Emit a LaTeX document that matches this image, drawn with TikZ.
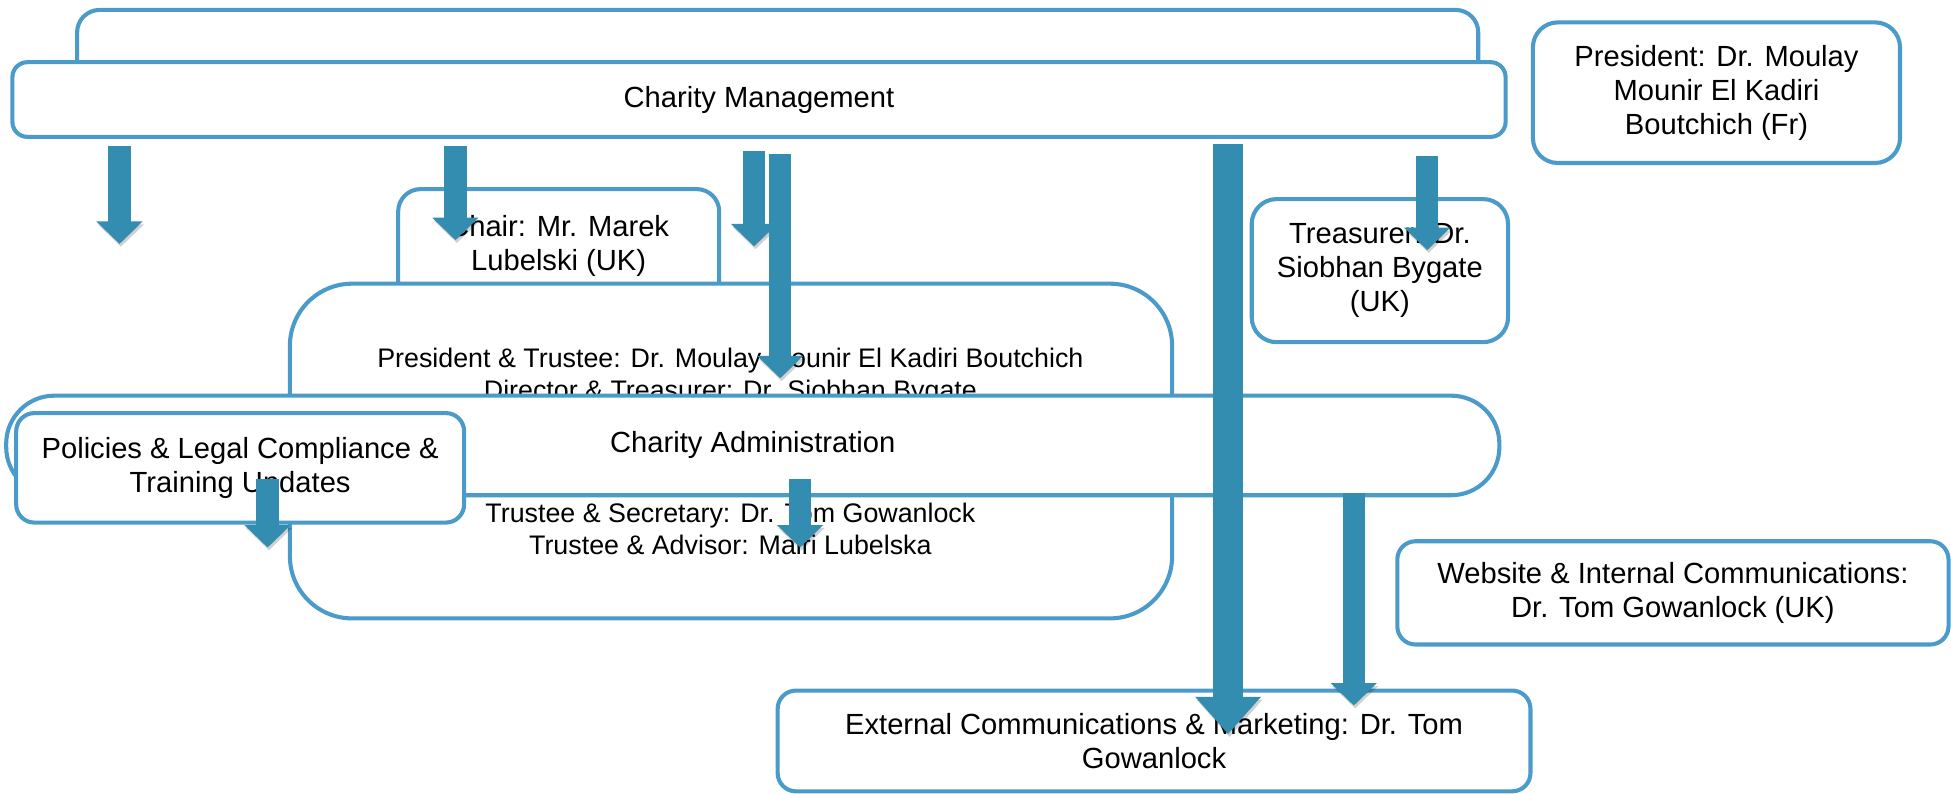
\documentclass[tikz,border=0pt]{standalone}
\usepackage{fontspec}
\setmainfont{Liberation Sans}
\usetikzlibrary{arrows.meta}
\definecolor{boxblue}{RGB}{74,155,201}
\definecolor{arrowteal}{RGB}{50,141,176}
\tikzstyle{unit} = [rectangle, rounded corners=0.27cm, draw=boxblue, line width=1.4pt,
                    fill=white, align=center, inner sep=0pt,
                    font=\fontsize{10}{11.6}\selectfont]
\tikzstyle{boardtext} = [align=center, inner sep=0pt, font=\fontsize{9.2}{11}\selectfont]
\tikzstyle{flow} = [line width=0.27cm, draw=arrowteal,
                    -{Triangle[length=0.27cm,width=0.54cm]},
                    preaction={draw=black, opacity=0.18, transform canvas={shift={(0.5pt,-1pt)}}}]
\tikzstyle{bigflow} = [line width=0.36cm, draw=arrowteal,
                    -{Triangle[length=0.45cm,width=0.765cm]},
                    preaction={draw=black, opacity=0.18, transform canvas={shift={(0.5pt,-1pt)}}}]

\begin{document}
\begin{tikzpicture}[x=0.015cm, y=-0.015cm]
    \useasboundingbox (0,0) rectangle (1568,638);
    % management level
    \node[unit, minimum width=16.89cm, minimum height=1.23cm] (mgmtback) at (625,49) {};
    \node[unit, rounded corners=0.18cm, minimum width=18cm, minimum height=0.9cm] (mgmt) at (610,80) {Charity Management};
    \node[unit, rounded corners=0.3cm, minimum width=4.425cm, minimum height=1.695cm] (pres) at (1379.5,74.5) {President: Dr. Moulay\\Mounir El Kadiri\\Boutchich (Fr)};
    \node[unit, minimum width=3.87cm, minimum height=1.38cm] (chair) at (449,198) {Chair: Mr. Marek\\Lubelski (UK)};
    \node[unit, rounded corners=0.3cm, minimum width=3.09cm, minimum height=1.725cm] (treas) at (1109,217.5) {Treasurer: Dr.\\Siobhan Bygate\\(UK)};
    % board of trustees
    \node[unit, rounded corners=0.75cm, minimum width=10.635cm, minimum height=4.035cm] (board) at (587.5,362.5) {};
    \node[boardtext] (boardtop) at (587,303) {President \& Trustee: Dr. Moulay Mounir El Kadiri Boutchich\\Director \& Treasurer: Dr. Siobhan Bygate};
    \node[boardtext] (boardbot) at (587,425) {Trustee \& Secretary: Dr. Tom Gowanlock\\Trustee \& Advisor: Mairi Lubelska};
    % administration level
    \node[unit, rounded corners=0.58cm, minimum width=18cm, minimum height=1.2cm] (admin) at (605,358) {Charity Administration};
    \node[unit, rounded corners=0.22cm, minimum width=5.4cm, minimum height=1.32cm] (policy) at (193,376) {Policies \& Legal Compliance \&\\Training Updates};
    \node[unit, rounded corners=0.22cm, minimum width=6.645cm, minimum height=1.245cm] (web) at (1344.5,476.5) {Website \& Internal Communications:\\Dr. Tom Gowanlock (UK)};
    \node[unit, rounded corners=0.22cm, minimum width=9.075cm, minimum height=1.215cm] (extcom) at (927.5,595.5) {External Communications \& Marketing: Dr. Tom\\Gowanlock};
    % arrows
    \coordinate (f1a) at (96,117);   \coordinate (f1b) at (96,196);
    \coordinate (f2a) at (366,117);  \coordinate (f2b) at (366,193);
    \coordinate (f3a) at (606,121);  \coordinate (f3b) at (606,198);
    \coordinate (f4a) at (627,124);  \coordinate (f4b) at (627,304);
    \coordinate (f5a) at (987,116);  \coordinate (f5b) at (987,590);
    \coordinate (f6a) at (1147,125); \coordinate (f6b) at (1147,201);
    \coordinate (f7a) at (1088,396); \coordinate (f7b) at (1088,567);
    \coordinate (f8a) at (643,385);  \coordinate (f8b) at (643,440);
    \coordinate (f9a) at (215,385);  \coordinate (f9b) at (215,440);
    \draw[flow] (f1a) -- (f1b);
    \draw[flow] (f2a) -- (f2b);
    \draw[flow] (f3a) -- (f3b);
    \draw[flow] (f4a) -- (f4b);
    \draw[bigflow] (f5a) -- (f5b);
    \draw[flow] (f6a) -- (f6b);
    \draw[flow] (f7a) -- (f7b);
    \draw[flow] (f8a) -- (f8b);
    \draw[flow] (f9a) -- (f9b);
\end{tikzpicture}
\end{document}
